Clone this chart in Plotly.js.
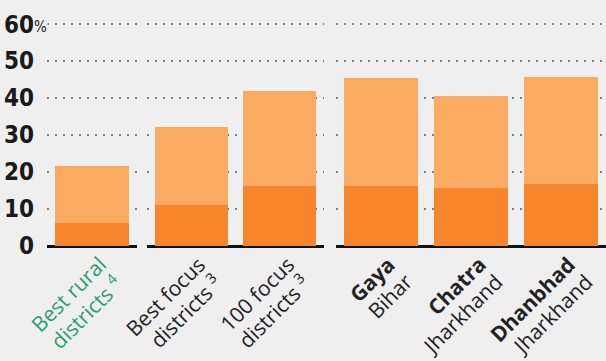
<!DOCTYPE html>
<html>
<head>
<meta charset="utf-8">
<script src="https://cdn.plot.ly/plotly-3.0.1.min.js"></script>
<style>
  html, body { margin: 0; padding: 0; background: #efefef; }
  #chart { width: 606px; height: 361px; }
</style>
</head>
<body>
<div id="chart"></div>
<script>
// Categories, split into three groups
const groupA = ['Best rural districts'];
const groupB = ['Best focus districts', '100 focus districts'];
const groupC = ['Gaya', 'Chatra', 'Dhanbhad'];

// Two-line category labels (first line / second line)
const labelA1 = ['Best rural'];
const labelA2 = ['districts <sup>4</sup>'];
const labelB1 = ['Best focus', '100 focus'];
const labelB2 = ['districts <sup>3</sup>', 'districts <sup>3</sup>'];
const labelC1 = ['Gaya', 'Chatra', 'Dhanbhad'];
const labelC2 = ['Bihar', 'Jharkhand', 'Jharkhand'];

// Values (%)
const lowerA = [6.3];
const totalA = [21.5];
const lowerB = [11.1, 16.2];
const totalB = [32.2, 41.9];
const lowerC = [16.2, 15.6, 16.9];
const totalC = [45.5, 40.6, 45.6];

const yTickVals = [0, 10, 20, 30, 40, 50, 60];
const yTickText = ['0', '10', '20', '30', '40', '50', '60'];

const darkOrange = '#f7852b';
const lightOrange = '#fbaa62';
const green = '#2a9d74';
const ink = '#222';

function upper(total, lower) { return total.map((t, i) => t - lower[i]); }

function pair(cats, lower, total, xa) {
  return [
    { type: 'bar', x: cats, y: lower, xaxis: xa, yaxis: 'y',
      marker: { color: darkOrange, line: { width: 0 } }, hoverinfo: 'skip', showlegend: false },
    { type: 'bar', x: cats, y: upper(total, lower), xaxis: xa, yaxis: 'y',
      marker: { color: lightOrange, line: { width: 0 } }, hoverinfo: 'skip', showlegend: false }
  ];
}

const data = [].concat(
  pair(groupA, lowerA, totalA, 'x'),
  pair(groupB, lowerB, totalB, 'x2'),
  pair(groupC, lowerC, totalC, 'x3')
);

const LABEL_FONT = 'Open Sans, sans-serif';
const LABEL_SIZE = 21;

function labelAnns(cats, line1, line2, xref, color, boldFirst) {
  const out = [];
  cats.forEach((c, i) => {
    out.push({
      xref: xref, yref: 'y', x: c, y: 0, text: line1[i], textangle: -45,
      xanchor: 'right', yanchor: 'top', xshift: 23, yshift: -2, showarrow: false,
      font: { family: LABEL_FONT, size: LABEL_SIZE, color: color, weight: boldFirst ? 700 : 400 }
    });
    out.push({
      xref: xref, yref: 'y', x: c, y: 0, text: line2[i], textangle: -45,
      xanchor: 'right', yanchor: 'top', xshift: 40, yshift: -19, showarrow: false,
      font: { family: LABEL_FONT, size: LABEL_SIZE, color: color, weight: 400 }
    });
  });
  return out;
}

const xCommon = {
  type: 'category', showgrid: false, showline: false, zeroline: false, ticks: '',
  showticklabels: false, anchor: 'y', fixedrange: true, autorange: false
};

const layout = {
  width: 606, height: 361,
  paper_bgcolor: '#efefef', plot_bgcolor: '#efefef',
  margin: { l: 47, r: 0, t: 23, b: 115, pad: 0 },
  barmode: 'stack', bargap: 0.18,
  showlegend: false,
  xaxis: Object.assign({}, xCommon, { domain: [0, 0.161], range: [-0.5, groupA.length - 0.5] }),
  xaxis2: Object.assign({}, xCommon, { domain: [0.179, 0.4955], range: [-0.5, groupB.length - 0.5] }),
  xaxis3: Object.assign({}, xCommon, { domain: [0.517, 1], range: [-0.5, groupC.length - 0.5] }),
  yaxis: {
    range: [0, 60.3], fixedrange: true, autorange: false,
    tickmode: 'array', tickvals: yTickVals, ticktext: yTickText,
    ticks: '', ticklabelstandoff: 12,
    tickfont: { family: 'Liberation Sans Narrow, DejaVu Sans Condensed, sans-serif', size: 24, color: '#1a1a1a', weight: 600 },
    showgrid: true, gridcolor: '#808080', gridwidth: 1.6, griddash: '2px,6px',
    zeroline: true, zerolinecolor: '#111', zerolinewidth: 3,
    showline: false
  },
  annotations: [
    { xref: 'paper', yref: 'y', x: 0, y: 60, xanchor: 'left', yanchor: 'middle', xshift: -14, yshift: -3,
      text: '%', showarrow: false, bgcolor: '#efefef', borderpad: 0,
      font: { family: 'Liberation Sans Narrow, DejaVu Sans Condensed, sans-serif', size: 15, color: '#1a1a1a' } }
  ].concat(
    labelAnns(groupA, labelA1, labelA2, 'x', green, false),
    labelAnns(groupB, labelB1, labelB2, 'x2', ink, false),
    labelAnns(groupC, labelC1, labelC2, 'x3', ink, true)
  )
};

Plotly.newPlot('chart', data, layout, { staticPlot: true, displayModeBar: false });
</script>
</body>
</html>
